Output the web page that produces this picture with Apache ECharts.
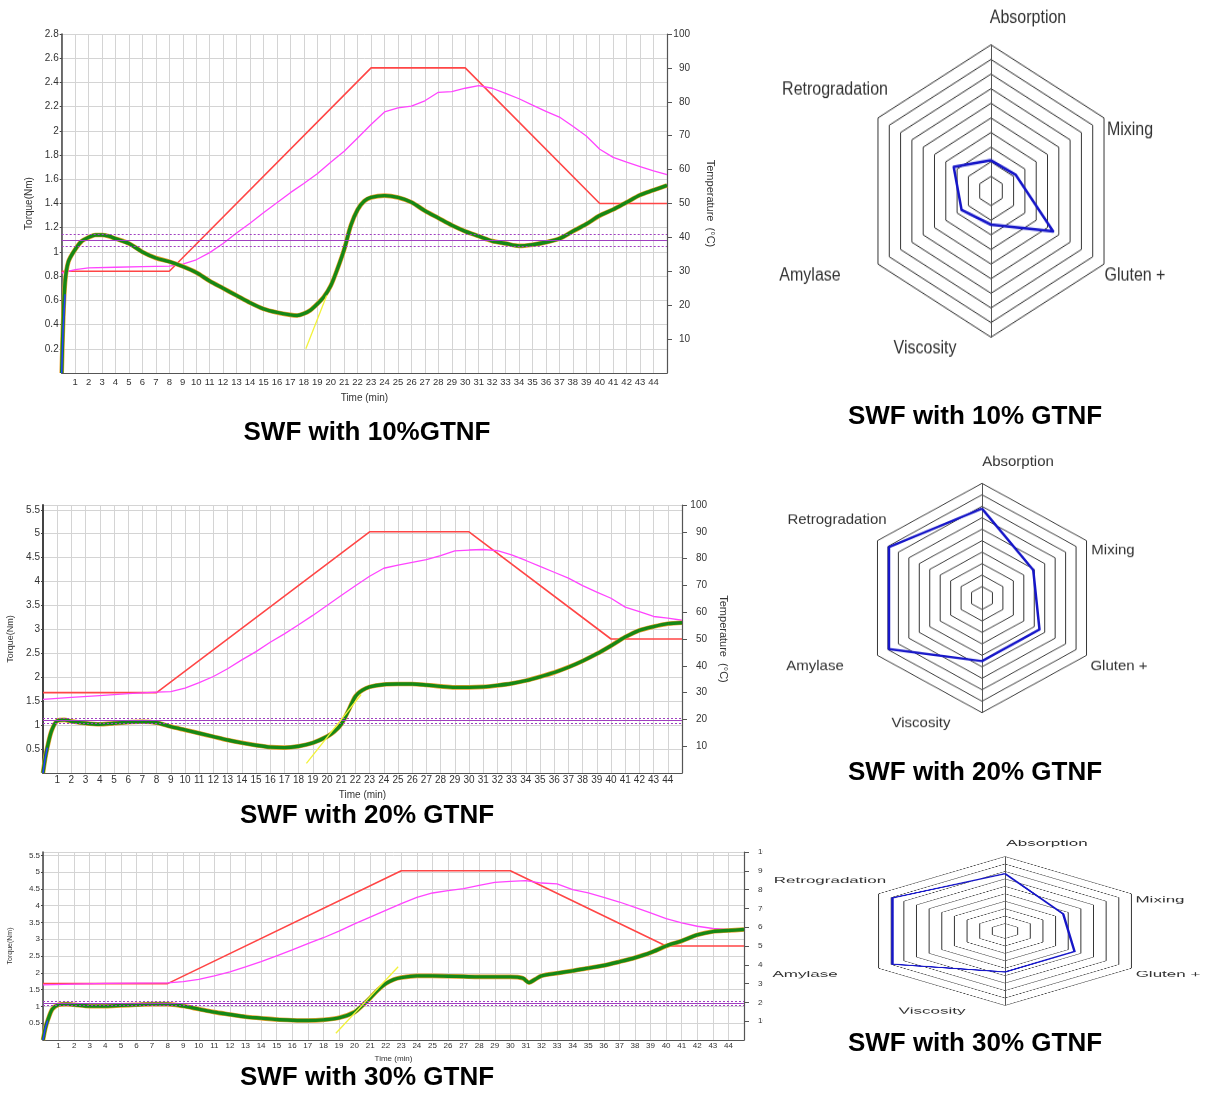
<!DOCTYPE html>
<html><head><meta charset="utf-8">
<script src="https://cdn.jsdelivr.net/npm/echarts@6/dist/echarts.min.js"></script>
<style>
html,body{margin:0;padding:0;background:#fff;width:1210px;height:1093px;overflow:hidden;position:relative}
.p{position:absolute}
</style></head><body>
<div id="tt" class="p" style="left:0;top:0;width:1210px;height:1093px"></div>
<div id="lc1" class="p" style="left:0;top:0;width:760px;height:450px"></div>
<div id="lc2" class="p" style="left:0;top:450px;width:760px;height:380px"></div>
<div id="lc3" class="p" style="left:0;top:830px;width:763px;height:263px"></div>
<div id="rd1" class="p" style="left:770px;top:0;width:440px;height:400px;transform-origin:221px 191px;transform:scaleY(1.12)"></div>
<div id="rd2" class="p" style="left:770px;top:440px;width:440px;height:320px;transform-origin:212px 158px;transform:scaleY(0.95)"></div>
<div id="rd3" class="p" style="left:770px;top:700px;width:440px;height:480px;transform-origin:235px 231px;transform:scaleY(0.51)"></div>
<script>
// ---------------- DATA ----------------
// Mixolab protocol (target temperature, °C)
const targetT    = [0, 8, 23, 30, 40, 45];
const targetTemp = [30, 30, 90, 90, 50, 50];

// Chart 1 : SWF with 10% GTNF
const torqueT1 = [0,0.1,0.25,0.5,1,1.5,2,2.5,3,3.5,4,5,6,7,8,9,10,11,12,13,14,15,16,17,17.5,18,18.5,19,19.5,20,20.5,21,21.5,22,22.5,23,24,25,26,27,28,29,30,31,32,33,34,35,36,37,38,39,40,41,42,43,44,45];
const torque1  = [0,0.4,0.75,0.92,1.02,1.09,1.12,1.14,1.14,1.13,1.11,1.07,1.0,0.95,0.92,0.88,0.83,0.76,0.70,0.64,0.58,0.53,0.50,0.48,0.475,0.49,0.52,0.57,0.63,0.72,0.86,1.02,1.22,1.35,1.42,1.45,1.465,1.45,1.41,1.34,1.28,1.22,1.17,1.13,1.09,1.07,1.05,1.06,1.08,1.11,1.17,1.23,1.30,1.35,1.41,1.47,1.51,1.55];
const tempT1   = [0,1,2,4,6,8,9,10,11,12,13,14,15,16,17,18,19,20,21,22,23,24,25,26,27,28,29,30,31,32,33,34,35,36,37,38,39,40,41,42,43,44,45];
const temp1    = [29.5,30.5,31,31.2,31.4,31.5,32.1,33.4,35.5,38.2,41.3,44.2,47.3,50.2,53.2,55.9,58.8,62.2,65.4,69.3,73.3,77,78.2,78.7,80.3,82.8,83,84,84.8,84,82.5,80.9,79,77.2,75.5,72.8,69.9,66,63.6,62.2,60.9,59.6,58.5];
const blueT1 = [0,0.1,0.25];
const blue1  = [0,0.35,0.65];
const tangentT1 = [18.15,19.7];
const tangent1  = [0.2,0.64];
const band1 = [1.05,1.1,1.15];

// Chart 2 : SWF with 20% GTNF
const torqueT2 = [0,0.15,0.3,0.6,1,1.5,2,3,4,5,6,7,8,9,10,11,12,13,14,15,16,17,18,19,20,20.5,21,21.5,22,22.5,23,24,25,26,27,28,29,30,31,32,33,34,35,36,37,38,39,40,41,42,43,44,45];
const torque2  = [0,0.3,0.53,0.88,1.09,1.11,1.08,1.04,1.02,1.04,1.06,1.07,1.05,0.97,0.90,0.83,0.76,0.69,0.63,0.58,0.54,0.53,0.56,0.63,0.76,0.86,1.02,1.30,1.60,1.73,1.80,1.85,1.86,1.86,1.84,1.81,1.79,1.79,1.80,1.83,1.87,1.93,2.01,2.10,2.21,2.34,2.49,2.66,2.84,2.98,3.06,3.12,3.14];
const tempT2   = [0,2,4,6,8,9,10,11,12,13,14,15,16,17,18,19,20,21,22,23,24,25,26,27,28,29,30,31,32,33,34,35,36,37,38,39,40,41,42,43,44,45];
const temp2    = [27.5,28.2,28.9,29.6,30.2,30.4,31.7,33.7,36,38.9,42.2,45.3,48.8,51.9,55.3,58.8,62.5,66.2,69.9,73.4,76.4,77.6,78.6,79.6,81.1,82.9,83.2,83.4,83,81.4,79.3,77.1,74.9,72.7,69.9,67.5,65.2,61.9,60.2,58.4,57.8,57];
const blueT2 = [0,0.15,0.3];
const blue2  = [0,0.3,0.53];
const tangentT2 = [18.55,22.4];
const tangent2  = [0.2,1.64];
const band2 = [1.05,1.1,1.15];

// Chart 3 : SWF with 30% GTNF
const torqueT3 = [0,0.15,0.3,0.6,1,1.5,2,3,4,5,6,7,8,9,10,11,12,13,14,15,16,17,18,19,20,20.5,21,21.5,22,22.5,23,24,25,26,27,28,29,30,30.8,31.2,31.6,32,33,34,35,36,37,38,39,40,41,42,43,44,45];
const torque3  = [0,0.35,0.58,0.92,1.05,1.07,1.05,1.01,1.01,1.03,1.05,1.07,1.07,1.01,0.92,0.83,0.76,0.69,0.65,0.61,0.59,0.58,0.60,0.66,0.83,1.03,1.25,1.49,1.68,1.80,1.86,1.91,1.91,1.90,1.89,1.88,1.88,1.88,1.84,1.71,1.81,1.91,1.99,2.06,2.14,2.22,2.33,2.45,2.60,2.80,2.95,3.13,3.23,3.26,3.29];
const tempT3   = [0,2,4,8,9,10,11,12,13,14,15,16,17,18,19,20,21,22,23,24,25,26,27,28,29,30,31,32,33,34,35,36,37,38,39,40,41,42,43,44,45];
const temp3    = [29.3,29.7,30.1,30.4,31.1,32.2,34.1,36.3,38.9,41.7,44.7,47.9,51.3,54.4,57.9,61.8,65.4,69,72.5,75.9,78.2,79.5,80.5,82.3,83.8,84.4,84.8,83.5,83,80,78.2,75.9,73.4,70.6,67.6,64.6,62.3,60.5,59.3,58.8,58.8];
const blueT3 = [0,0.15,0.3];
const blue3  = [0,0.35,0.58];
const tangentT3 = [18.8,22.8];
const tangent3  = [0.2,2.18];
const band3 = [1.05,1.1,1.15];

// Radar profiler indices (0-10), order: Absorption, Retrogradation, Amylase, Viscosity, Gluten +, Mixing
const radarNames = ['Absorption','Retrogradation','Amylase','Viscosity','Gluten +','Mixing'];
const radar10 = [2.1,3.3,2.6,2.3,5.5,2.2];
const radar20 = [7.8,8.9,8.9,5.5,5.5,4.9];
const radar30 = [7.7,8.9,8.9,5.5,5.5,4.6];

const titlesLeft  = ['SWF with 10%GTNF','SWF with 20% GTNF','SWF with 30% GTNF'];
const titlesRight = ['SWF with 10% GTNF','SWF with 20% GTNF','SWF with 30% GTNF'];

// ---------------- RENDER ----------------
const FONT = "'Liberation Sans', Arial, sans-serif";
const zip = (a,b) => a.map((t,i) => [t, b[i]]);

function lineOpt(c){
  return {
    animation:false,
    textStyle:{fontFamily:FONT},
    grid:{left:c.grid[0], top:c.grid[1], width:c.grid[2], height:c.grid[3], outerBoundsMode:'none', containLabel:false},
    xAxis:{type:'value', min:0, max:45, interval:1,
      name:'Time (min)', nameLocation:'middle', nameGap:c.xNameGap,
      nameTextStyle:{fontSize:c.nameFs, color:'#333', fontFamily:FONT},
      axisLine:{lineStyle:{color:'#555', width:1.2}}, axisTick:{show:false},
      axisLabel:{fontSize:c.xFs, color:'#333', margin:c.xMargin, showMinLabel:false, showMaxLabel:false, fontFamily:FONT},
      splitLine:{show:true, lineStyle:{color:'#d4d4d4', width:1}}},
    yAxis:[
      {type:'value', position:'left', min:0, max:c.tqMax, interval:c.tqInt,
        name:'Torque(Nm)', nameLocation:'middle', nameGap:c.lNameGap,
        nameTextStyle:{fontSize:c.lNameFs, color:'#333', fontFamily:FONT},
        axisLine:{show:true, lineStyle:{color:'#444', width:c.lw}},
        axisTick:{show:true, length:2, lineStyle:{color:'#444'}},
        axisLabel:{fontSize:c.yFs, color:'#333', margin:3, showMinLabel:false, fontFamily:FONT},
        splitLine:{show:true, lineStyle:{color:'#d4d4d4', width:1}}},
      {type:'value', position:'right', min:0, max:100, interval:10,
        name:'Temperature  (°C)', nameLocation:'middle', nameRotate:-90, nameGap:c.rNameGap,
        nameTextStyle:{fontSize:11, color:'#333', fontFamily:FONT},
        axisLine:{show:true, lineStyle:{color:'#555', width:1.2}},
        axisTick:{show:true, length:5, lineStyle:{color:'#555'}},
        axisLabel:{fontSize:c.rFs, color:'#333', margin:c.rMargin, align:c.rAlign, showMinLabel:false, fontFamily:FONT},
        splitLine:{show:false}}
    ],
    series:[
      {type:'line', yAxisIndex:1, data:zip(targetT,targetTemp), symbol:'none', lineStyle:{color:'#ff4646', width:1.6}, z:2},
      {type:'line', yAxisIndex:1, data:zip(c.tempT,c.temp), symbol:'none', lineStyle:{color:'#ff45ff', width:1.3}, z:2},
      {type:'line', yAxisIndex:0, data:zip(c.tqT,c.tq), symbol:'none', smooth:0.3, lineStyle:{color:'#e8a030', width:4.6}, z:3,
        markLine:{silent:true, symbol:'none', label:{show:false}, animation:false,
          data:c.band.map((v,i)=>({yAxis:v, lineStyle:{color:'#a040c0', width:1.2, type:i===1?'solid':[2,2]}}))}},
      {type:'line', yAxisIndex:0, data:zip(c.tqT,c.tq), symbol:'none', smooth:0.3, lineStyle:{color:'#168816', width:3.4}, z:4},
      {type:'line', yAxisIndex:0, data:zip(c.tanT,c.tan), symbol:'none', lineStyle:{color:'#f2f23a', width:1.3}, z:5},
      {type:'line', yAxisIndex:0, data:zip(c.blueT,c.blue), symbol:'none', lineStyle:{color:'#2a3cff', width:1.5}, z:5}
    ]
  };
}

echarts.init(document.getElementById('lc1')).setOption(lineOpt({
  grid:[61.7,34,605.3,339], tqMax:2.8, tqInt:0.2, lw:1.5,
  xFs:9.5, xMargin:4, xNameGap:20, nameFs:10, yFs:10, lNameGap:21, lNameFs:10,
  rFs:10, rMargin:23, rAlign:'right', rNameGap:38,
  tqT:torqueT1, tq:torque1, tempT:tempT1, temp:temp1, tanT:tangentT1, tan:tangent1, blueT:blueT1, blue:blue1, band:band1
}));
echarts.init(document.getElementById('lc2')).setOption(lineOpt({
  grid:[43,55,639,268], tqMax:5.6, tqInt:0.5, lw:2,
  xFs:10, xMargin:2, xNameGap:14, nameFs:10, yFs:10, lNameGap:22, lNameFs:9,
  rFs:10, rMargin:25, rAlign:'right', rNameGap:36,
  tqT:torqueT2, tq:torque2, tempT:tempT2, temp:temp2, tanT:tangentT2, tan:tangent2, blueT:blueT2, blue:blue2, band:band2
}));
echarts.init(document.getElementById('lc3')).setOption(lineOpt({
  grid:[43,22,701,188], tqMax:5.6, tqInt:0.5, lw:1.5,
  xFs:8, xMargin:1.5, xNameGap:8, nameFs:8, yFs:8, lNameGap:29, lNameFs:7,
  rFs:8, rMargin:14, rAlign:'left', rNameGap:36,
  tqT:torqueT3, tq:torque3, tempT:tempT3, temp:temp3, tanT:tangentT3, tan:tangent3, blueT:blueT3, blue:blue3, band:band3
}));

function radarOpt(c){
  return {
    animation:false,
    radar:[
      {center:[c.cx,c.cy], radius:c.r, startAngle:90, shape:'polygon', splitNumber:10,
        indicator:radarNames.map(n=>({name:n, max:10})),
        axisName:{show:false}, axisLine:{show:false}, axisTick:{show:false}, axisLabel:{show:false},
        splitLine:{lineStyle:{color:'#363636', width:1}}, splitArea:{show:false}},
      {center:[c.cx,c.cy], radius:c.r, startAngle:90, shape:'polygon', splitNumber:1,
        indicator:[{name:'',max:10},{name:'',max:10}],
        axisName:{show:false}, axisLine:{show:true, lineStyle:{color:'#555', width:1}},
        splitLine:{show:false}, splitArea:{show:false}}
    ],
    series:[{type:'radar', radarIndex:0, symbol:'none', lineStyle:{color:'#1616c8', width:2.5},
      data:[{value:c.values}]}],
    graphic:c.labels.map((p,i)=>({type:'text', x:p[0], y:p[1], silent:true,
      style:{text:radarNames[i], fontSize:c.fs, fontFamily:FONT, fill:'#333', align:'center', verticalAlign:'middle'}}))
  };
}
echarts.init(document.getElementById('rd1')).setOption(radarOpt({
  cx:221, cy:191, r:130.5, fs:16, values:radar10,
  labels:[[258,36.5],[65,100.8],[40,266.9],[155,331.2],[365,266.9],[360,136.5]]
}));
echarts.init(document.getElementById('rd2')).setOption(radarOpt({
  cx:212, cy:158, r:120.7, fs:15, values:radar20,
  labels:[[248,14.8],[67,75.9],[45,229.6],[151,289.6],[349,229.6],[343,107.5]]
}));
echarts.init(document.getElementById('rd3')).setOption(radarOpt({
  cx:235, cy:231, r:146, fs:17, values:radar30,
  labels:[[277,59],[60,132.4],[35,315.9],[162,387.9],[398,315.9],[390,170.2]]
}));

const leftTitleY = [433, 816, 1078];
const rightTitleY = [417, 773, 1044];
const titleStyle = {fontSize:26, fontWeight:'bold', fontFamily:FONT, fill:'#000', align:'center', verticalAlign:'middle'};
echarts.init(document.getElementById('tt')).setOption({
  animation:false,
  graphic:[
    ...titlesLeft.map((t,i)=>({type:'text', x:367, y:leftTitleY[i], style:Object.assign({text:t}, titleStyle)})),
    ...titlesRight.map((t,i)=>({type:'text', x:975, y:rightTitleY[i], style:Object.assign({text:t}, titleStyle)}))
  ]
});
</script>
</body></html>
